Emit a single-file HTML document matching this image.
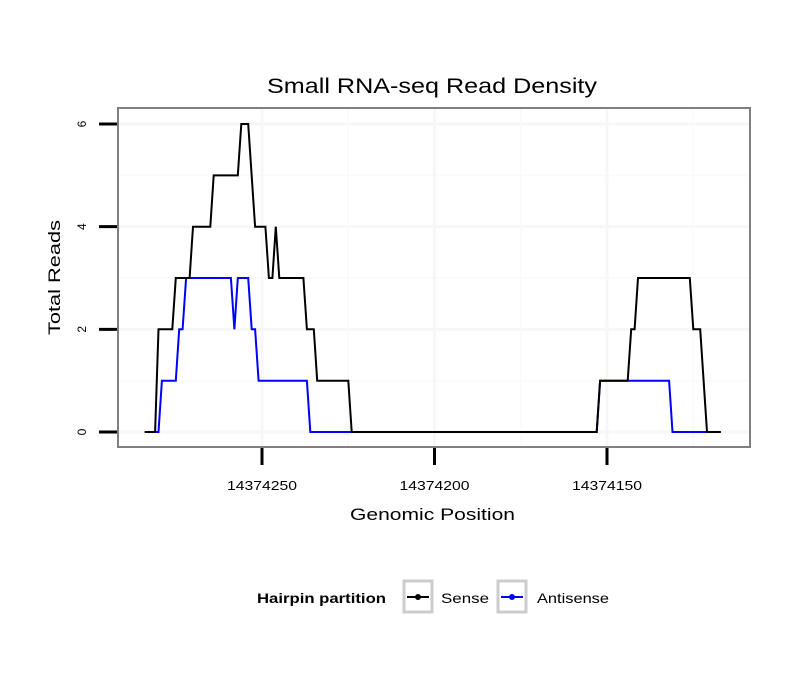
<!DOCTYPE html>
<html><head><meta charset="utf-8"><style>
body{margin:0;background:#fff;width:810px;height:690px;overflow:hidden}
svg text{font-family:"Liberation Sans",sans-serif}
</style></head><body>
<svg id="chart" width="810" height="690" xmlns="http://www.w3.org/2000/svg">
<rect width="810" height="690" fill="#fff"/>
<text x="267" y="93" font-size="21" textLength="330" lengthAdjust="spacingAndGlyphs">Small RNA-seq Read Density</text>
<g id="grid"></g>
<g id="lines"></g>
<rect x="118" y="108" width="632" height="339" fill="none" stroke="#808080" stroke-width="2"/>
<g id="axes"></g>
<text x="350" y="520" font-size="17" textLength="165" lengthAdjust="spacingAndGlyphs">Genomic Position</text>
<text transform="translate(60,335) rotate(-90)" font-size="17" textLength="115" lengthAdjust="spacingAndGlyphs">Total Reads</text>
<g>
<text x="257" y="603" font-size="14" font-weight="bold" textLength="129" lengthAdjust="spacingAndGlyphs">Hairpin partition</text>
<g>
<rect x="404" y="581" width="28" height="31" fill="#fff" stroke="#ccc" stroke-width="3"/>
<line x1="407" y1="597" x2="429" y2="597" stroke="#000" stroke-width="2"/><circle cx="418" cy="597" r="3" fill="#000"/>
<text x="441" y="603" font-size="14" textLength="48" lengthAdjust="spacingAndGlyphs">Sense</text></g>
<g>
<rect x="498" y="581" width="28" height="31" fill="#fff" stroke="#ccc" stroke-width="3"/>
<line x1="501" y1="597" x2="523" y2="597" stroke="#00f" stroke-width="2"/><circle cx="512" cy="597" r="3" fill="#00f"/>
<text x="537" y="603" font-size="14" textLength="72" lengthAdjust="spacingAndGlyphs">Antisense</text></g>
</g>
</svg>
<script>
const senseX=[14374284,14374281,14374280,14374276,14374275,14374271,14374270,14374265,14374264,14374257,14374256,14374254,14374252,14374249,14374248,14374247,14374246,14374245,14374238,14374237,14374235,14374234,14374225,14374224,14374153,14374152,14374144,14374143,14374142,14374141,14374126,14374125,14374123,14374121,14374117];
const senseY=[0,0,2,2,3,3,4,4,5,5,6,6,4,4,3,3,4,3,3,2,2,1,1,0,0,1,1,2,2,3,3,2,2,0,0];
const antiX=[14374284,14374280,14374279,14374275,14374274,14374273,14374272,14374259,14374258,14374257,14374254,14374253,14374252,14374251,14374237,14374236,14374153,14374152,14374132,14374131,14374121];
const antiY=[0,0,1,1,2,2,3,3,2,3,3,2,2,1,1,0,0,1,1,0,0];
const xTicks=[14374250,14374200,14374150];
const yTicks=[0,2,4,6];
const xs=v=>262-(v-14374250)*3.45;
const ys=v=>432-v*51.33;
const NS="http://www.w3.org/2000/svg";
function mk(tag,attrs,parent){const e=document.createElementNS(NS,tag);for(const k in attrs)e.setAttribute(k,attrs[k]);parent.appendChild(e);return e;}
const grid=document.getElementById('grid'),axes=document.getElementById('axes'),lines=document.getElementById('lines');
for(const t of [1,3,5]){const l=mk('line',{x1:118,x2:750,y1:ys(t),y2:ys(t),stroke:'#fafafa','stroke-width':1.5},grid);

}
for(const t of yTicks){const l=mk('line',{x1:118,x2:750,y1:ys(t),y2:ys(t),stroke:'#f7f7f7','stroke-width':3},grid);


const tk=mk('line',{x1:99,x2:117,y1:ys(t),y2:ys(t),stroke:'#000','stroke-width':3},axes);


const tx=mk('text',{transform:`translate(86,${ys(t)}) rotate(-90)`,'font-size':12,'text-anchor':'middle'},axes);


tx.textContent=t;}
for(const t of [14374225,14374175,14374125]){const l=mk('line',{x1:xs(t),x2:xs(t),y1:108,y2:447,stroke:'#fafafa','stroke-width':1.5},grid);

}
for(const t of xTicks){const l=mk('line',{x1:xs(t),x2:xs(t),y1:108,y2:447,stroke:'#f7f7f7','stroke-width':3},grid);


const tk=mk('line',{x1:xs(t),x2:xs(t),y1:448,y2:465,stroke:'#000','stroke-width':3},axes);


const tx=mk('text',{x:xs(t)-35,y:490,'font-size':13,textLength:70,lengthAdjust:'spacingAndGlyphs'},axes);


tx.textContent=t;}
function draw(X,Y,color,name){const d=X.map((v,i)=>(i?'L':'M')+xs(v).toFixed(1)+','+ys(Y[i]).toFixed(1)).join('');
const p=mk('path',{d:d,fill:'none',stroke:color,'stroke-width':2},lines);

}
draw(antiX,antiY,'#00f','antisense-line');
draw(senseX,senseY,'#000','sense-line');
</script>
</body></html>
